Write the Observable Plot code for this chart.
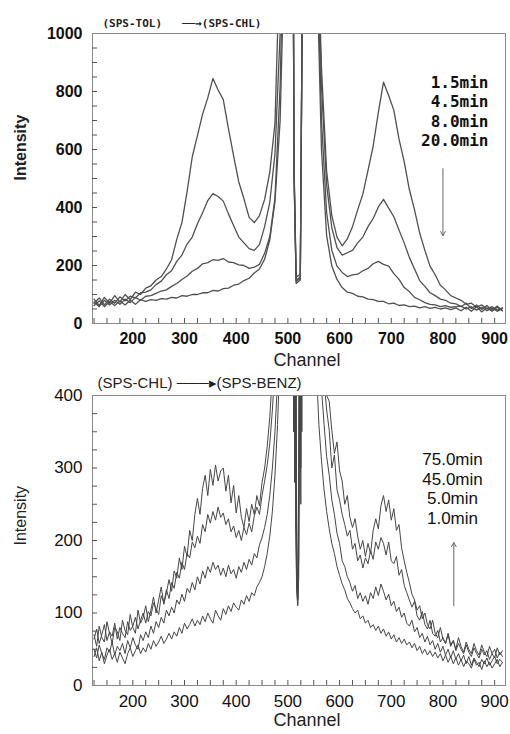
<!DOCTYPE html>
<html><head><meta charset="utf-8">
<script src="https://cdn.jsdelivr.net/npm/d3@7"></script>
<script src="https://cdn.jsdelivr.net/npm/@observablehq/plot@0.6"></script>
<style>
body{margin:0;background:#fff;width:510px;height:734px;overflow:hidden;position:relative;font-family:"Liberation Sans",Arial,sans-serif}
#top,#bot{position:absolute;left:0}
#top{top:0}
#bot{top:373px}
</style></head><body>
<div id="top"></div><div id="bot"></div>
<script>
// ---------- data ----------
const topChannels = [125,135,145,155,165,175,185,195,205,215,
 225,235,245,255,265,275,285,295,305,315,
 325,335,345,355,365,375,385,395,405,415,
 425,435,445,455,465,475,485,495,505,
 510,512,516,524,529,
 535,545,555,565,575,585,595,605,615,625,
 635,645,655,665,675,685,695,705,715,725,
 735,745,755,765,775,785,795,805,815,825,
 835,845,855,865,875,885,895,905,915];

const topTitle = ["(SPS-TOL)", "(SPS-CHL)"];
const topTimes = ["1.5min","4.5min","8.0min","20.0min"];
const top1_5 = [84,62,90,70,96,74,100,82,108,100,
 122,130,150,162,188,220,290,348,455,575,
 648,722,778,845,805,772,672,578,488,430,
 366,348,372,428,522,690,1300,1600,1600,
 1400,500,138,150,1400,
 1600,1600,1500,880,525,372,298,268,292,334,
 392,446,528,612,728,832,786,735,636,558,
 462,392,312,252,198,168,132,116,96,88,
 80,66,70,56,64,50,58,46,54];
const top4_5 = [70,88,64,84,70,92,78,94,88,106,
 108,116,134,146,168,182,214,236,274,298,
 344,382,424,448,438,422,378,338,298,278,
 258,252,272,334,418,585,1000,1600,1600,
 1400,520,150,160,1400,
 1600,1600,1450,820,478,330,262,236,244,252,
 278,298,334,362,402,428,398,368,322,278,
 228,188,148,128,106,96,84,80,70,68,
 58,70,52,64,48,62,46,60,44];
const top8_0 = [74,58,80,64,80,66,84,72,90,80,
 94,96,104,112,116,128,138,152,164,180,
 190,206,210,220,218,224,212,210,202,200,
 190,194,204,242,300,432,820,1600,1600,
 1400,510,145,155,1400,
 1600,1600,1400,700,382,252,198,176,162,168,
 170,182,190,206,214,204,198,172,152,124,
 110,90,82,72,66,64,58,62,56,58,
 60,50,58,46,56,44,54,42,52];
const top20_0 = [62,78,58,76,62,78,64,80,66,82,
 76,82,80,86,84,90,88,96,94,100,
 100,106,106,114,112,120,122,132,136,148,
 156,174,188,222,288,420,700,1400,1600,
 1400,540,160,170,1400,
 1600,1600,1300,600,302,198,152,124,108,104,
 94,92,84,82,76,76,68,70,62,64,
 58,60,54,58,52,56,50,54,48,54,
 44,56,42,58,40,54,42,56,44];

const botChannels = [125,130,135,140,145,150,155,160,165,170,
 175,180,185,190,195,200,205,210,215,220,
 225,230,235,240,245,250,255,260,265,270,
 275,280,285,290,295,300,305,310,315,320,
 325,330,335,340,345,350,355,360,365,370,
 375,380,385,390,395,400,405,410,415,420,
 425,430,435,440,445,450,455,460,465,470,
 475,480,485,490,495,500,505,
 507,509,511,513,515,517,519,521,523,525,527,529,
 535,540,545,550,555,560,565,570,575,580,
 585,590,595,600,605,610,615,620,625,630,
 635,640,645,650,655,660,665,670,675,680,
 685,690,695,700,705,710,715,720,725,730,
 735,740,745,750,755,760,765,770,775,780,
 785,790,795,800,805,810,815,820,825,830,
 835,840,845,850,855,860,865,870,875,880,
 885,890,895,900,905,910,915];

const botTitle = ["(SPS-CHL)", "(SPS-BENZ)"];
const botTimes = ["75.0min","45.0min","5.0min","1.0min"];
const bot75 = [70,54,82,66,60,88,72,58,80,74,
 62,90,76,70,98,80,72,104,86,94,
 110,88,104,122,100,118,136,112,128,146,
 130,158,148,176,160,192,178,214,200,236,
 258,236,272,290,262,298,276,304,282,296,
 300,268,290,252,276,238,262,232,218,244,
 226,250,236,262,248,280,300,330,370,430,
 480,560,700,820,900,900,900,
 900,500,900,320,800,200,120,260,700,300,900,900,
 900,900,900,800,700,620,520,460,400,392,
 352,320,336,296,282,250,262,232,218,230,
 206,188,200,178,196,182,214,230,216,248,
 262,240,256,228,244,214,222,190,172,156,
 142,126,118,104,110,92,100,84,78,90,
 72,66,80,64,58,72,56,62,50,66,
 54,46,60,50,44,58,48,42,56,46,
 40,54,44,38,52,42,48];
const bot45 = [64,78,58,70,84,62,74,68,86,64,
 80,72,66,88,76,82,94,78,90,100,
 86,102,96,114,106,98,124,114,132,120,
 142,134,156,148,170,160,182,176,198,190,
 206,196,222,212,236,224,240,228,246,232,
 238,222,230,212,220,204,214,200,218,208,
 224,212,234,246,236,262,282,304,334,380,
 440,520,640,760,900,900,900,
 900,900,420,900,260,140,112,180,500,900,400,900,
 900,900,860,720,620,540,470,420,380,352,
 300,318,270,256,236,222,206,214,188,196,
 172,180,162,176,168,186,174,198,188,204,
 196,180,198,172,168,178,152,160,138,128,
 118,108,116,96,90,102,84,78,90,72,
 68,76,60,66,58,70,54,62,48,58,
 50,44,56,46,40,52,44,38,50,42,
 48,36,44,50,38,46,40];
const bot5 = [50,38,56,44,36,52,46,60,42,54,
 48,58,44,62,52,66,56,50,70,62,
 74,66,82,72,88,80,94,86,104,96,
 108,100,118,112,126,116,134,128,142,132,
 150,140,158,148,164,156,170,160,166,152,
 162,150,166,154,160,148,164,156,170,160,
 174,166,182,176,194,204,218,236,262,300,
 350,420,520,640,800,900,900,
 900,600,900,280,600,160,118,300,800,250,900,900,
 900,860,760,640,540,470,410,360,316,290,
 256,236,210,196,172,164,150,142,130,138,
 120,128,116,124,112,128,120,136,124,140,
 130,118,126,110,116,102,108,94,100,86,
 82,90,74,80,66,72,60,68,56,62,
 50,58,46,54,42,50,38,48,36,44,
 34,42,30,40,28,38,32,26,36,30,
 38,28,34,40,30,36,32];
const bot1 = [40,52,34,46,30,42,50,36,44,32,
 46,38,30,44,52,40,48,56,44,52,
 46,58,50,62,54,60,68,58,64,72,
 64,74,68,80,72,86,78,84,92,82,
 90,84,96,88,100,92,86,104,96,90,
 106,98,110,102,114,108,104,118,112,124,
 116,128,124,136,142,150,164,182,206,240,
 290,360,460,600,760,900,900,
 900,900,350,700,220,130,110,150,400,800,350,900,
 900,800,660,540,440,360,310,270,240,216,
 196,182,164,152,140,132,120,114,106,100,
 104,92,96,86,90,80,84,76,82,72,
 78,68,74,64,70,60,66,58,64,56,
 60,52,58,48,54,44,50,42,48,40,
 46,38,44,34,42,32,40,30,38,28,
 36,26,34,30,24,36,28,32,22,34,
 26,32,24,30,36,26,32];

const xTickValues = [200,300,400,500,600,700,800,900];
const topYTickValues = [0,200,400,600,800,1000];
const botYTickValues = [0,100,200,300,400];

// ---------- build ----------
function rows(channels, labels, series) {
  series.forEach((s,i)=>{ if (s.length !== channels.length) throw new Error("length mismatch " + labels[i] + " " + s.length + " vs " + channels.length); });
  return labels.flatMap((t,i)=>series[i].map((v,j)=>({ch: channels[j], v, t})));
}
const topData = rows(topChannels, topTimes, [top1_5, top4_5, top8_0, top20_0]);
const botData = rows(botChannels, botTimes, [bot75, bot45, bot5, bot1]);

const sans = "'Liberation Sans', Arial, sans-serif";
const mono = "'DejaVu Sans Mono', monospace";
const NB = "\u00a0";
const fmt = d => String(d);
const W = 510, ML = 92, MR = 5, FH = 290, TICK = 5;
const FW = W - ML - MR;

function minorTicks(xMinor, yMinor) {
  return [
    Plot.ruleX(xMinor, {x: d => d, insetTop: FH - TICK, stroke: "#555", strokeWidth: 1}),
    Plot.ruleY(yMinor, {y: d => d, insetRight: FW - TICK, stroke: "#555", strokeWidth: 1})
  ];
}

const topPlot = Plot.plot({
  width: W, height: 373,
  marginTop: 33, marginBottom: 50, marginLeft: ML, marginRight: MR,
  style: {background: "#fff", color: "#000", fontFamily: sans, overflow: "visible"},
  x: {domain: [122, 921], label: null},
  y: {domain: [0, 1000], label: null},
  marks: [
    Plot.line(topData, {x: "ch", y: "v", z: "t", stroke: "#505050", strokeWidth: 1.3, clip: true}),
    Plot.frame({stroke: "#8a8a8a"}),
    ...minorTicks(d3.range(125, 921, 25), d3.range(50, 1000, 50)),
    Plot.axisX(xTickValues, {tickSize: 0, tickPadding: 9, tickFormat: fmt, fontSize: 16, fontWeight: "bold", fill: "#111"}),
    Plot.axisY(topYTickValues, {tickSize: 0, tickPadding: 10, tickFormat: fmt, fontSize: 16, fontWeight: "bold", fill: "#111"}),
    Plot.text(["Channel"], {frameAnchor: "bottom", dx: 8, dy: 42, fontSize: 18, fill: "#222"}),
    Plot.text(["Intensity"], {frameAnchor: "left", dx: -72, dy: 2, rotate: -90, fontSize: 16, fontWeight: "bold", fill: "#222"}),
    Plot.text([topTimes.join("\n")], {frameAnchor: "top-right", textAnchor: "end", lineAnchor: "top", dx: -17, dy: 41, lineHeight: 1.2, fontFamily: mono, fontSize: 16, fontWeight: "bold", fill: "#111"}),
    Plot.arrow([0], {x1: 800, y1: 534, x2: 800, y2: 303, stroke: "#666", strokeWidth: 1, headLength: 7}),
    Plot.text([topTitle[0] + NB + NB + NB + "\u2500\u2500\u2192" + topTitle[1]], {frameAnchor: "top-left", textAnchor: "start", lineAnchor: "middle", dx: 10, dy: -10, fontFamily: mono, fontSize: 11, fontWeight: "bold", fill: "#222"})
  ]
});
document.getElementById("top").appendChild(topPlot);

const botPlot = Plot.plot({
  width: W, height: 361,
  marginTop: 22, marginBottom: 49, marginLeft: ML, marginRight: MR,
  style: {background: "#fff", color: "#000", fontFamily: sans, overflow: "visible"},
  x: {domain: [122, 921], label: null},
  y: {domain: [0, 400], label: null},
  marks: [
    Plot.line(botData, {x: "ch", y: "v", z: "t", stroke: "#464646", strokeWidth: 1, clip: true}),
    Plot.frame({stroke: "#8a8a8a"}),
    ...minorTicks(d3.range(125, 921, 25), d3.range(25, 400, 25)),
    Plot.axisX(xTickValues, {tickSize: 0, tickPadding: 9, tickFormat: fmt, fontSize: 17, fill: "#111"}),
    Plot.axisY(botYTickValues, {tickSize: 0, tickPadding: 10, tickFormat: fmt, fontSize: 17, fill: "#111"}),
    Plot.text(["Channel"], {frameAnchor: "bottom", dx: 8, dy: 40, fontSize: 18, fill: "#222"}),
    Plot.text(["Intensity"], {frameAnchor: "left", dx: -72, dy: 5, rotate: -90, fontSize: 16, fill: "#222"}),
    Plot.text([botTimes.join("\n")], {frameAnchor: "top-right", textAnchor: "middle", lineAnchor: "top", dx: -53, dy: 56, lineHeight: 1.15, fontSize: 17, fill: "#111"}),
    Plot.arrow([0], {x1: 821, y1: 110, x2: 821, y2: 197, stroke: "#666", strokeWidth: 1, headLength: 7}),
    Plot.text([botTitle[0] + NB + "\u2500\u2500\u2500\u25B8" + botTitle[1]], {frameAnchor: "top-left", textAnchor: "start", lineAnchor: "middle", dx: 5, dy: -12, fontSize: 15, fill: "#222"})
  ]
});
document.getElementById("bot").appendChild(botPlot);
</script>
</body></html>
